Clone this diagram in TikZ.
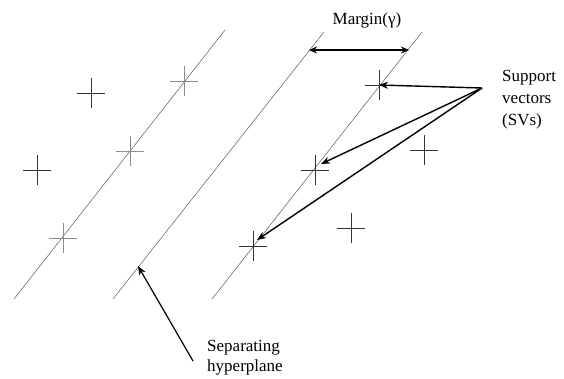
\documentclass[tikz,border=0pt]{standalone}
\usepackage{fontspec}
\setmainfont{Liberation Serif}
\usetikzlibrary{arrows.meta}
\begin{document}
\begin{tikzpicture}[x=1pt,y=-1pt,
  plane/.style={draw=black!65,line width=0.5pt},
  plus/.style={draw=black!80,line width=0.7pt},
  grayplus/.style={draw=black!45,line width=0.7pt},
  arr/.style={draw=black,line width=1.4pt,-{Stealth[length=9pt,width=7pt]}},
  lbl/.style={font=\fontsize{17}{22}\selectfont,align=left,inner sep=0pt}]
\useasboundingbox (0,0) rectangle (564,378);
% hyperplanes
\coordinate (l1a) at (14,299); \coordinate (l1b) at (225,30);
\coordinate (l2a) at (113,299); \coordinate (l2b) at (324,32);
\coordinate (l3a) at (212,299); \coordinate (l3b) at (422,32);
\draw[plane] (l1a) -- (l1b);
\draw[plane] (l2a) -- (l2b);
\draw[plane] (l3a) -- (l3b);
% points
\coordinate (p1) at (184,81);
\coordinate (p2) at (130,151);
\coordinate (p3) at (63,238);
\coordinate (p4) at (91,93);
\coordinate (p5) at (37,170);
\coordinate (sv1) at (379,85);
\coordinate (sv2) at (315,170);
\coordinate (sv3) at (253,246);
\coordinate (p6) at (424,150);
\coordinate (p7) at (351,228);
\foreach \p in {p1,p2,p3}
  \draw[grayplus] (\p) +(-14,0) -- +(14,0) (\p) +(0,-15) -- +(0,15);
\foreach \p in {p4,p5,sv1,sv2,sv3,p6,p7}
  \draw[plus] (\p) +(-14,0) -- +(14,0) (\p) +(0,-15) -- +(0,15);
% margin
\coordinate (ma) at (309,50);
\coordinate (mb) at (409,50);
\draw[line width=1.4pt,{Stealth[length=8pt,width=7pt]}-{Stealth[length=8pt,width=7pt]}] (ma) -- (mb);
\node[lbl,anchor=base] (mlab) at (367,24) {Margin(γ)};
% support vectors
\node[lbl,anchor=north west] (svlab) at (502,70) {Support\\vectors\\(SVs)};
\coordinate (src) at (482,88);
\draw[arr] (src) -- (sv1);
\draw[arr] (src) -- ([shift={(6,-6)}]sv2);
\draw[arr] (src) -- ([shift={(4,-6)}]sv3);
% separating hyperplane
\node[lbl,anchor=north west,font=\fontsize{17}{20}\selectfont] (hlab) at (207,340) {Separating\\hyperplane};
\coordinate (hsrc) at (193,361);
\coordinate (htip) at (138,266);
\draw[line width=1.2pt,-{Stealth[length=9pt,width=7pt]}] (hsrc) -- (htip);
\end{tikzpicture}
\end{document}
